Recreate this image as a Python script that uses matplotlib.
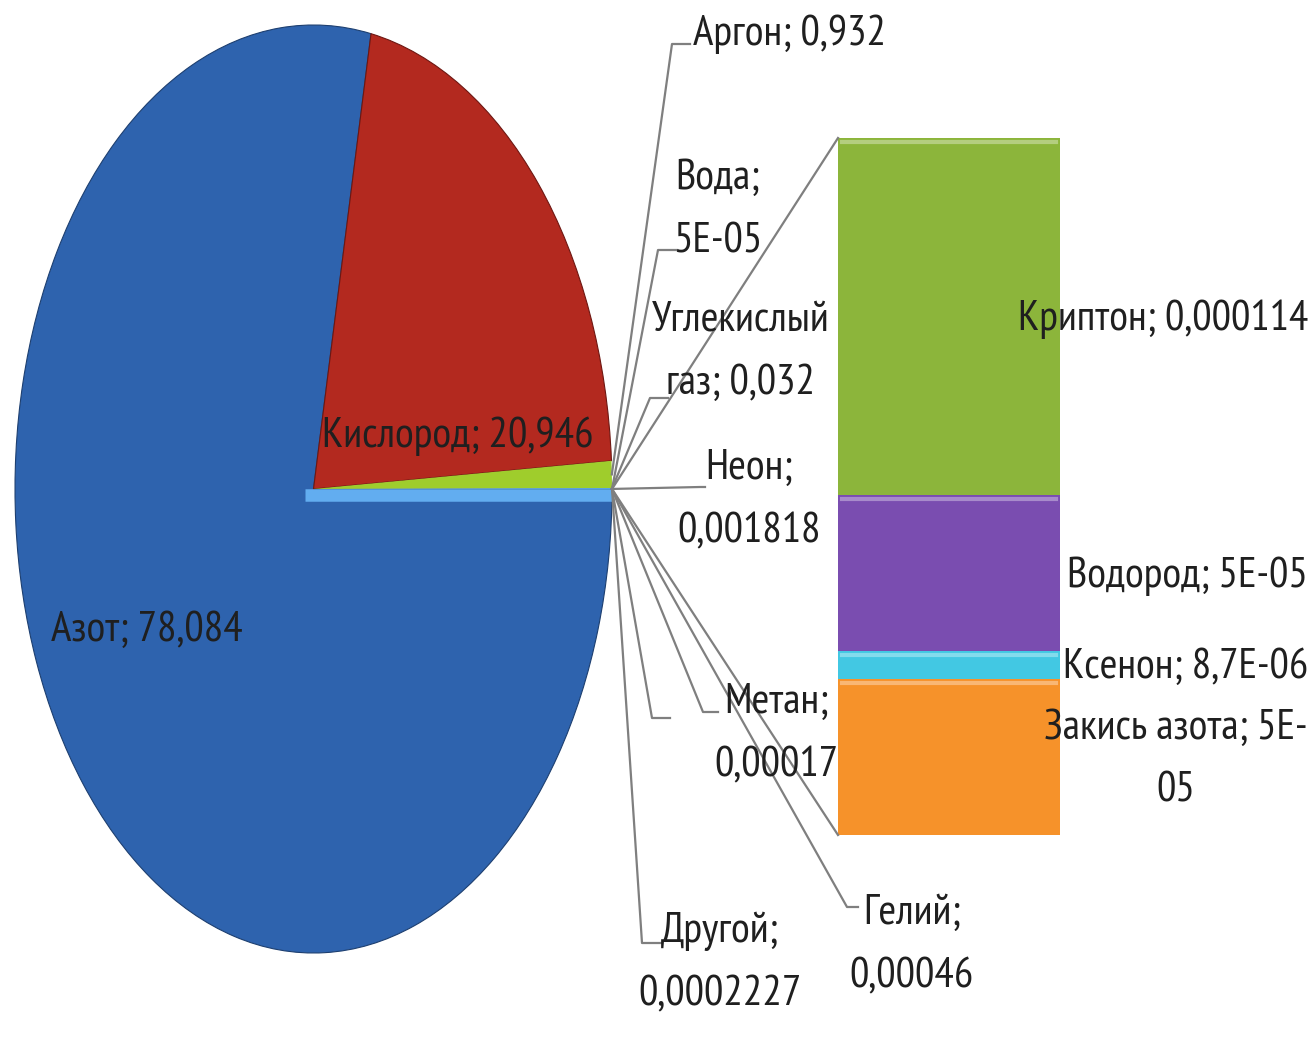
import os
import matplotlib.pyplot as plt
from matplotlib import font_manager as fm
from matplotlib.ft2font import FT2Font
from matplotlib.textpath import TextPath
import numpy as np

W, H = 1316, 1045

# состав атмосферы, % по объёму
pie_names = ['Азот', 'Кислород', 'Аргон', 'Углекислый газ', 'Неон',
             'Гелий', 'Метан', 'Вода', 'Другой']
pie_values = [78.084, 20.946, 0.932, 0.032, 0.001818,
              0.00046, 0.00017, 5e-05, 0.0002227]
pie_labels = ['Азот; 78,084', 'Кислород; 20,946', 'Аргон; 0,932',
              'Углекислый\nгаз; 0,032', 'Неон;\n0,001818', 'Гелий;\n0,00046',
              'Метан;\n0,00017', 'Вода;\n5E-05', 'Другой;\n0,0002227']
pie_colors = ['#2e63ae', '#b3291f', '#9fcd2c', '#5aa6e6', '#5aa6e6',
              '#5aa6e6', '#5aa6e6', '#5aa6e6', '#5aa6e6']

# разбивка "Другой" по столбцу (сверху вниз)
bar_names = ['Криптон', 'Водород', 'Ксенон', 'Закись азота']
bar_values = [0.000114, 5e-05, 8.7e-06, 5e-05]
bar_labels = ['Криптон; 0,000114', 'Водород; 5E-05', 'Ксенон; 8,7E-06',
              'Закись азота; 5E-\n05']
bar_colors = ['#8cb53b', '#7a4db0', '#42c8e3', '#f6922a']

text_color = '#1f1f1f'
line_color = '#7f7f7f'


def has_cyrillic(path):
    try:
        cmap = FT2Font(path).get_charmap()
    except Exception:
        return False
    return all(ord(c) in cmap for c in 'АЖКдйыь')


def pick_narrow_font():
    """Regular narrow/condensed sans face with Cyrillic, else DejaVu Sans."""
    bad = ('bold', 'italic', 'oblique', 'light', 'thin', 'medium', 'black',
           'semibold', 'extrabold', 'heavy', 'mono', 'serif', 'cjk')
    found = []
    for f in fm.fontManager.ttflist:
        base = os.path.basename(f.fname).lower()
        name = f.name.lower()
        if any(b in base for b in bad) or f.style != 'normal':
            continue
        stretch = str(f.stretch).lower()
        if 'narrow' in base or 'narrow' in name:
            rank = 0
        elif ('condensed' in base or 'condensed' in name
              or stretch == 'condensed'):
            if 'extra' in base or 'ultra' in base or 'extra' in stretch:
                rank = 3
            elif 'semi' in base or 'semi' in stretch:
                rank = 2
            else:
                rank = 1
        else:
            continue
        found.append((rank, f.fname))
    for rank, path in sorted(found):
        if has_cyrillic(path):
            return fm.FontProperties(fname=path)
    return fm.FontProperties(family='DejaVu Sans')


font = pick_narrow_font()
# size chosen so that the oxygen label gets its intended width (~267 px)
w1 = TextPath((0, 0), 'Кислород; 20,946', size=1, prop=font).get_extents().width
fs = 267 / (w1 * 100 / 72)
font.set_size(fs)

fig = plt.figure(figsize=(W / 100, H / 100), dpi=100)

# overlay in pixel coordinates for labels and leader lines
ov = fig.add_axes([0, 0, 1, 1], zorder=5)
ov.set_xlim(0, W)
ov.set_ylim(H, 0)
ov.axis('off')
ov.patch.set_alpha(0)


def to_ov(ax, x, y):
    d = ax.transData.transform((x, y))
    return ov.transData.inverted().transform(d)


# pie (stretched into an ellipse)
px0, px1, py0, py1 = 15, 612, 25, 953
ax_pie = fig.add_axes([px0 / W, 1 - py1 / H, (px1 - px0) / W, (py1 - py0) / H])
wedges, _ = ax_pie.pie(pie_values, colors=pie_colors, startangle=0,
                       counterclock=False, radius=1,
                       wedgeprops=dict(edgecolor='#1d3f70', linewidth=0.8))
wedges[1].set_edgecolor('#6e1712')
for w in wedges[2:]:
    w.set_edgecolor('none')
ax_pie.set_xlim(-1.0, 1.0)
ax_pie.set_ylim(-1.0, 1.0)
ax_pie.set_aspect('auto')
ax_pie.axis('off')
# light bevel along the upper edge of the nitrogen wedge
ax_pie.plot([-0.03, 1.0], [-0.012, -0.012], color='#62adf0', lw=9,
            solid_capstyle='butt', zorder=3)

# stacked bar for the "other" group
bx0, bx1, by0, by1 = 838, 1060, 138, 835
ax_bar = fig.add_axes([bx0 / W, 1 - by1 / H, (bx1 - bx0) / W, (by1 - by0) / H])
total = sum(bar_values)
bottoms = []
top = total
for v, c in zip(bar_values, bar_colors):
    top -= v
    ax_bar.bar(0, v, bottom=top, width=1.0, color=c, edgecolor='none')
    ax_bar.plot([-0.48, 0.48], [top + v - total * 0.006] * 2,
                color='white', alpha=0.35, lw=3)
    bottoms.append(top)
ax_bar.set_xlim(-0.5, 0.5)
ax_bar.set_ylim(0, total)
ax_bar.axis('off')

# text inside the big wedges
ov.text(458, 436, pie_labels[1], fontproperties=font, color=text_color,
        ha='center', va='center')
ov.text(147, 630, pie_labels[0], fontproperties=font, color=text_color,
        ha='center', va='center')

# outside labels: text position, alignment, leader elbow
label_layout = {
    'Аргон': ((693, 34), 'left', [(672, 44), (690, 44)]),
    'Вода': ((718, 210), 'center', [(658, 250), (677, 250)]),
    'Углекислый газ': ((741, 352), 'center', [(650, 398), (668, 398)]),
    'Неон': ((749, 500), 'center', [(700, 487), (705, 487)]),
    'Метан': ((776, 734), 'center', [(703, 712), (718, 712)]),
    'Гелий': ((912, 945), 'center', [(847, 907), (858, 907)]),
    'Другой': ((720, 963), 'center', [(642, 943), (662, 943)]),
}
empty_label_leaders = [[(652, 718), (670, 718)]]

# line spacing so that two-line labels have ~65 px between baselines
spacing = 1.2 * 65 / (fs * 100 / 72)


def rim_point(w):
    mid = np.deg2rad((w.theta1 + w.theta2) / 2)
    return to_ov(ax_pie, np.cos(mid), np.sin(mid))


for name, w, lab in zip(pie_names, wedges, pie_labels):
    if name not in label_layout:
        continue
    (tx, ty), ha, elbow = label_layout[name]
    ax0, ay0 = rim_point(w)
    xs = [ax0] + [p[0] for p in elbow]
    ys = [ay0] + [p[1] for p in elbow]
    ov.plot(xs, ys, color=line_color, lw=1.6)
    ov.text(tx, ty, lab, fontproperties=font, color=text_color, ha=ha,
            va='center', linespacing=spacing, multialignment='center')

for elbow in empty_label_leaders:
    ax0, ay0 = rim_point(wedges[-2])
    ov.plot([ax0] + [p[0] for p in elbow], [ay0] + [p[1] for p in elbow],
            color=line_color, lw=1.6)

# series lines from the "other" wedge to the bar
other = wedges[-1]
for ang, corner in [(other.theta2, (-0.5, total)), (other.theta1, (-0.5, 0))]:
    a = np.deg2rad(ang)
    sx, sy = to_ov(ax_pie, np.cos(a), np.sin(a))
    cx, cy = to_ov(ax_bar, *corner)
    ov.plot([sx, cx], [sy, cy], color=line_color, lw=1.6)

# bar segment labels
bar_label_x = [1163, 1187, 1186, 1176]
for lab, v, b, lx in zip(bar_labels, bar_values, bottoms, bar_label_x):
    _, ly = to_ov(ax_bar, 0, b + v / 2)
    ov.text(lx, ly + 3, lab, fontproperties=font, color=text_color,
            ha='center', va='center', linespacing=spacing)

fig.savefig('out.png', dpi=100)
